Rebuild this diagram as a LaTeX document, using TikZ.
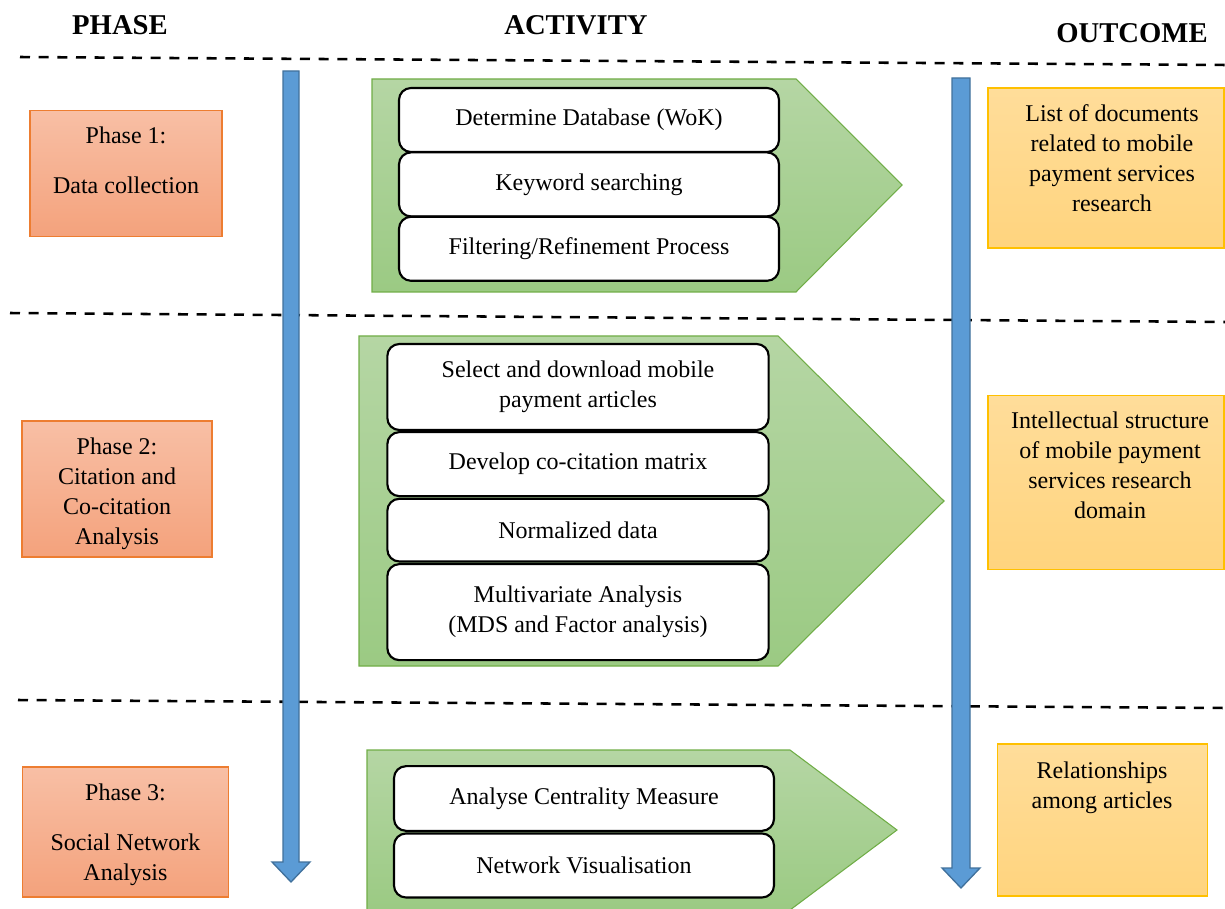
\documentclass[tikz,border=0pt]{standalone}
\usepackage{fontspec}
\setmainfont{Liberation Serif}
\usetikzlibrary{positioning}
\definecolor{phasetop}{HTML}{F8BFA5}
\definecolor{phasebot}{HTML}{F4A27C}
\definecolor{phaseline}{HTML}{ED7D31}
\definecolor{outtop}{HTML}{FFDD9A}
\definecolor{outbot}{HTML}{FFD47E}
\definecolor{outline}{HTML}{FFC000}
\definecolor{greentop}{HTML}{B5D6A4}
\definecolor{greenbot}{HTML}{9BCA83}
\definecolor{greenline}{HTML}{70AD47}
\definecolor{arrowfill}{HTML}{5B9BD5}
\definecolor{arrowline}{HTML}{41719C}
\tikzset{
  head/.style={font=\fontsize{21.5}{26}\selectfont\bfseries},
  body/.style={font=\fontsize{18}{22.5}\selectfont, align=center},
  phasebox/.style={draw=phaseline, line width=0.9pt, top color=phasetop, bottom color=phasebot, inner sep=0pt},
  outbox/.style={draw=outline, line width=0.9pt, top color=outtop, bottom color=outbot, inner sep=0pt},
  actbox/.style={body, draw=black, fill=white, line width=1.6pt, rounded corners=9pt, inner sep=0pt},
  chevron/.style={draw=greenline, line width=0.8pt, top color=greentop, bottom color=greenbot},
  divider/.style={line width=1.9pt, dash pattern=on 7.5pt off 6.5pt},
  timeline/.style={draw=arrowline, line width=1pt, fill=arrowfill, line join=miter}
}
\begin{document}
\begin{tikzpicture}[x=0.75pt,y=-0.75pt]
\useasboundingbox (0,0) rectangle (1225,909);
% column titles
\node[head] (phasehead) at (120,25) {PHASE};
\node[head] (acthead) at (576,25) {ACTIVITY};
\node[head] (outhead) at (1132,33) {OUTCOME};
% separators
\draw[divider] (20,57)--(1225,65);
\draw[divider] (10,313)--(1225,322);
\draw[divider] (18,700)--(1225,708);
% green chevrons
\path[chevron] (372,79)--(796,79)--(902,185)--(796,292)--(372,292)--cycle;
\path[chevron] (359,336)--(778,336)--(944,501)--(778,666)--(359,666)--cycle;
\path[chevron] (367,750)--(790,750)--(897,830)--(790,910)--(367,910)--cycle;
% timeline arrows
\path[timeline] (283,71)--(299,71)--(299,862)--(310,862)--(291,882)--(272,862)--(283,862)--cycle;
\path[timeline] (952,78)--(970,78)--(970,868)--(980,868)--(961,888)--(942,868)--(952,868)--cycle;
% phases
\node[phasebox, minimum width=144pt, minimum height=95pt] (p1) at (126,173.5) {};
\node[body, anchor=north] (p1txt) at (126,122) {Phase 1:\\[15pt]Data collection};
\node[phasebox, minimum width=142.5pt, minimum height=102pt] (p2) at (117,489) {};
\node[body, anchor=north] (p2txt) at (117,433) {Phase 2:\\Citation and\\Co-citation\\Analysis};
\node[phasebox, minimum width=154pt, minimum height=97.5pt] (p3) at (125.5,832) {};
\node[body, anchor=north] (p3txt) at (125.5,779) {Phase 3:\\[15pt]Social Network\\Analysis};
% activities, phase 1
\node[actbox, minimum width=285pt, minimum height=48pt] (db) at (589,120) {Determine Database (WoK)};
\node[actbox, minimum width=285pt, minimum height=48pt, below=-1.3pt of db] (kw) {Keyword searching};
\node[actbox, minimum width=285pt, minimum height=48pt, below=-1.3pt of kw] (filt) {Filtering/Refinement Process};
% activities, phase 2
\node[actbox, minimum width=286pt, minimum height=64.5pt] (sel) at (578,387) {Select and download mobile\\payment articles};
\node[actbox, minimum width=286pt, minimum height=48pt, below=0pt of sel] (cocit) {Develop co-citation matrix};
\node[actbox, minimum width=286pt, minimum height=47pt, below=0.4pt of cocit] (norm) {Normalized data};
\node[actbox, minimum width=286pt, minimum height=72pt, below=0.4pt of norm] (multi) {Multivariate Analysis\\(MDS and Factor analysis)};
% activities, phase 3
\node[actbox, minimum width=285pt, minimum height=48.5pt] (cent) at (584,798.5) {Analyse Centrality Measure};
\node[actbox, minimum width=285pt, minimum height=48pt, below=0.4pt of cent] (netvis) {Network Visualisation};
% outcomes
\node[outbox, minimum width=177pt, minimum height=120pt] (o1) at (1106,168) {};
\node[body, anchor=north] (o1txt) at (1112,100) {List of documents\\related to mobile\\payment services\\research};
\node[outbox, minimum width=177pt, minimum height=131pt] (o2) at (1106,482.5) {};
\node[body, anchor=north] (o2txt) at (1110,407) {Intellectual structure\\of mobile payment\\services research\\domain};
\node[outbox, minimum width=157pt, minimum height=114pt] (o3) at (1102.5,820) {};
\node[body, anchor=north] (o3txt) at (1102,757) {Relationships\\among articles};
\end{tikzpicture}
\end{document}
